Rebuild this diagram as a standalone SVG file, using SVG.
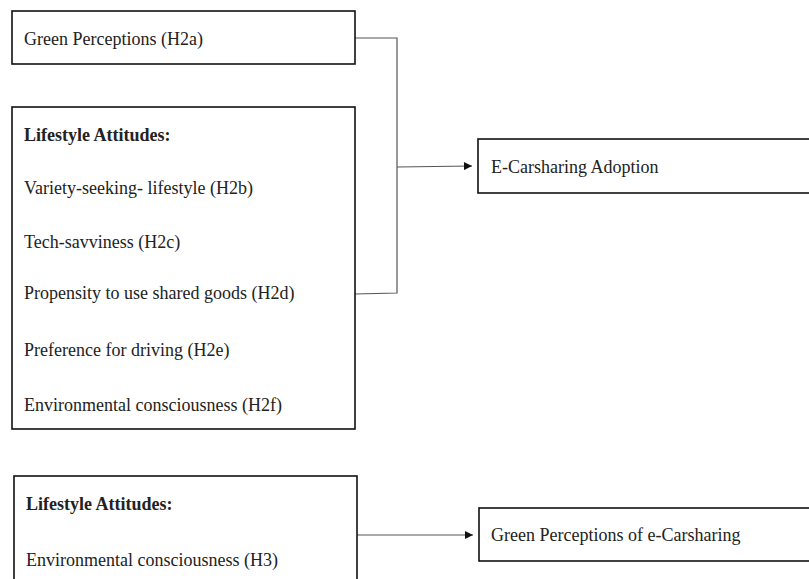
<svg xmlns="http://www.w3.org/2000/svg" width="809" height="579" viewBox="0 0 809 579">
<style>
.box{fill:#fff;stroke:#111;stroke-width:1.6}
.t{font-family:"Liberation Serif","Times New Roman",serif;font-size:18px;fill:#222}
.b{font-weight:bold}
.c{fill:none;stroke:#555;stroke-width:1.2}
</style>
<defs>
<marker id="ah" viewBox="0 0 10 10" refX="10" refY="5" markerWidth="9" markerHeight="8" markerUnits="userSpaceOnUse" orient="auto">
<path d="M0,0 L10,5 L0,10 z" fill="#111"/>
</marker>
</defs>
<rect width="809" height="579" fill="#fff"/>
<g id="connectors">
<polyline class="c" points="355,38 397,38 397,293 355,294"/>
<line class="c" x1="397" y1="167" x2="472" y2="166" marker-end="url(#ah)"/>
<line class="c" x1="357" y1="535" x2="473" y2="535" marker-end="url(#ah)"/>
</g>
<g id="green-perceptions">
<rect class="box" x="12" y="11" width="343" height="53"/>
<text class="t" x="24" y="45">Green Perceptions  (H2a)</text>
</g>
<g id="lifestyle-attitudes">
<rect class="box" x="12" y="107" width="343" height="322"/>
<text class="t b" x="24" y="141">Lifestyle Attitudes:</text>
<text class="t" x="24" y="194">Variety-seeking- lifestyle  (H2b)</text>
<text class="t" x="24" y="248">Tech-savviness  (H2c)</text>
<text class="t" x="24" y="299">Propensity  to use shared  goods (H2d)</text>
<text class="t" x="24" y="356">Preference  for driving  (H2e)</text>
<text class="t" x="24" y="411">Environmental  consciousness  (H2f)</text>
</g>
<g id="ecarsharing-adoption">
<rect class="box" x="478" y="139" width="335" height="54"/>
<text class="t" x="491" y="173">E-Carsharing  Adoption</text>
</g>
<g id="lifestyle-attitudes-h3">
<rect class="box" x="14" y="476" width="343" height="110"/>
<text class="t b" x="26" y="510">Lifestyle Attitudes:</text>
<text class="t" x="26" y="566">Environmental  consciousness  (H3)</text>
</g>
<g id="green-perceptions-ecarsharing">
<rect class="box" x="479" y="508" width="334" height="53"/>
<text class="t" x="491" y="541">Green Perceptions  of e-Carsharing</text>
</g>
</svg>
